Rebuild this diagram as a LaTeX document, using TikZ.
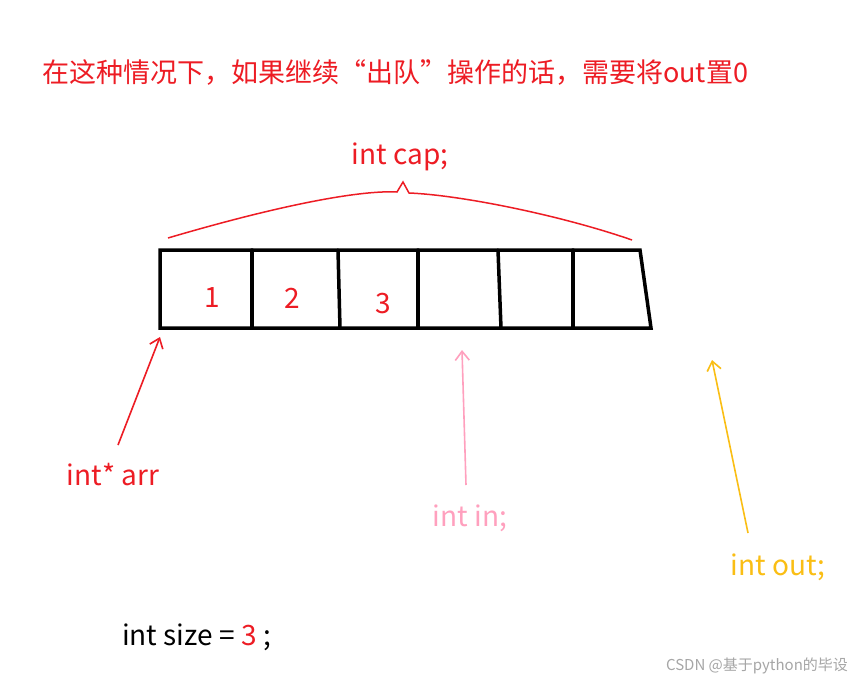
\documentclass[tikz,border=0pt]{standalone}
\usepackage{fontspec}
\setmainfont{Noto Sans CJK SC}
\definecolor{penred}{RGB}{237,28,36}
\definecolor{penpink}{RGB}{255,160,190}
\definecolor{penyellow}{RGB}{250,190,20}
\tikzset{
  label/.style={inner sep=0pt, font=\fontsize{28}{32}\selectfont},
  cellline/.style={line width=3.5pt, line cap=round},
  pointer/.style={line width=1.6pt, -{Straight Barb[length=9pt,width=14pt]}}
}
\usetikzlibrary{arrows.meta}
\begin{document}
\begin{tikzpicture}[x=1pt,y=-1pt]
\useasboundingbox[fill=white] (0,0) rectangle (859,682);
% heading
\node[label, anchor=west, text=penred, font=\fontsize{27}{30}\selectfont] (title) at (42,73)
  {在这种情况下，如果继续“出队”操作的话，需要将out置0};
% capacity brace
\node[label, text=penred] (cap) at (400,157) {int cap;};
\draw[penred, line width=1.5pt] (168,238) .. controls (280,205) and (360,190) .. (397,192)
  -- (403,182) -- (409,193) .. controls (460,195) and (560,215) .. (632,240);
% array cells
\coordinate (tl) at (160,250); \coordinate (tr) at (640,250);
\coordinate (bl) at (160,328); \coordinate (br) at (651,328);
\draw[cellline] (tl) -- (tr) -- (br) -- (bl) -- cycle;
\foreach \xa/\xb in {252/252, 338/340, 418/418, 498/501, 573/573}
  \draw[cellline] (\xa,250) -- (\xb,328);
\node[label, text=penred] (v1) at (212,298) {1};
\node[label, text=penred] (v2) at (292,298) {2};
\node[label, text=penred] (v3) at (383,304) {3};
% pointers
\node[label, text=penred] (arr) at (113,475) {int* arr};
\coordinate (arrtail) at (118,445);
\coordinate (arrhead) at (160,337);
\draw[pointer, penred] (arrtail) -- (arrhead);
\node[label, text=penpink] (in) at (470,518) {int in;};
\coordinate (intail) at (466,485);
\coordinate (inhead) at (462,350);
\draw[pointer, penpink] (intail) -- (inhead);
\node[label, text=penyellow] (out) at (778,567) {int out;};
\coordinate (outtail) at (748,533);
\coordinate (outhead) at (712,360);
\draw[pointer, penyellow] (outtail) -- (outhead);
% size
\node[label, anchor=west] (size) at (122,637) {int size = \textcolor{penred}{3} ;};
% watermark
\node[inner sep=0pt, text=gray!70, font=\fontsize{15}{17}\selectfont] (mark) at (757,666) {CSDN @基于python的毕设};
\end{tikzpicture}
\end{document}
